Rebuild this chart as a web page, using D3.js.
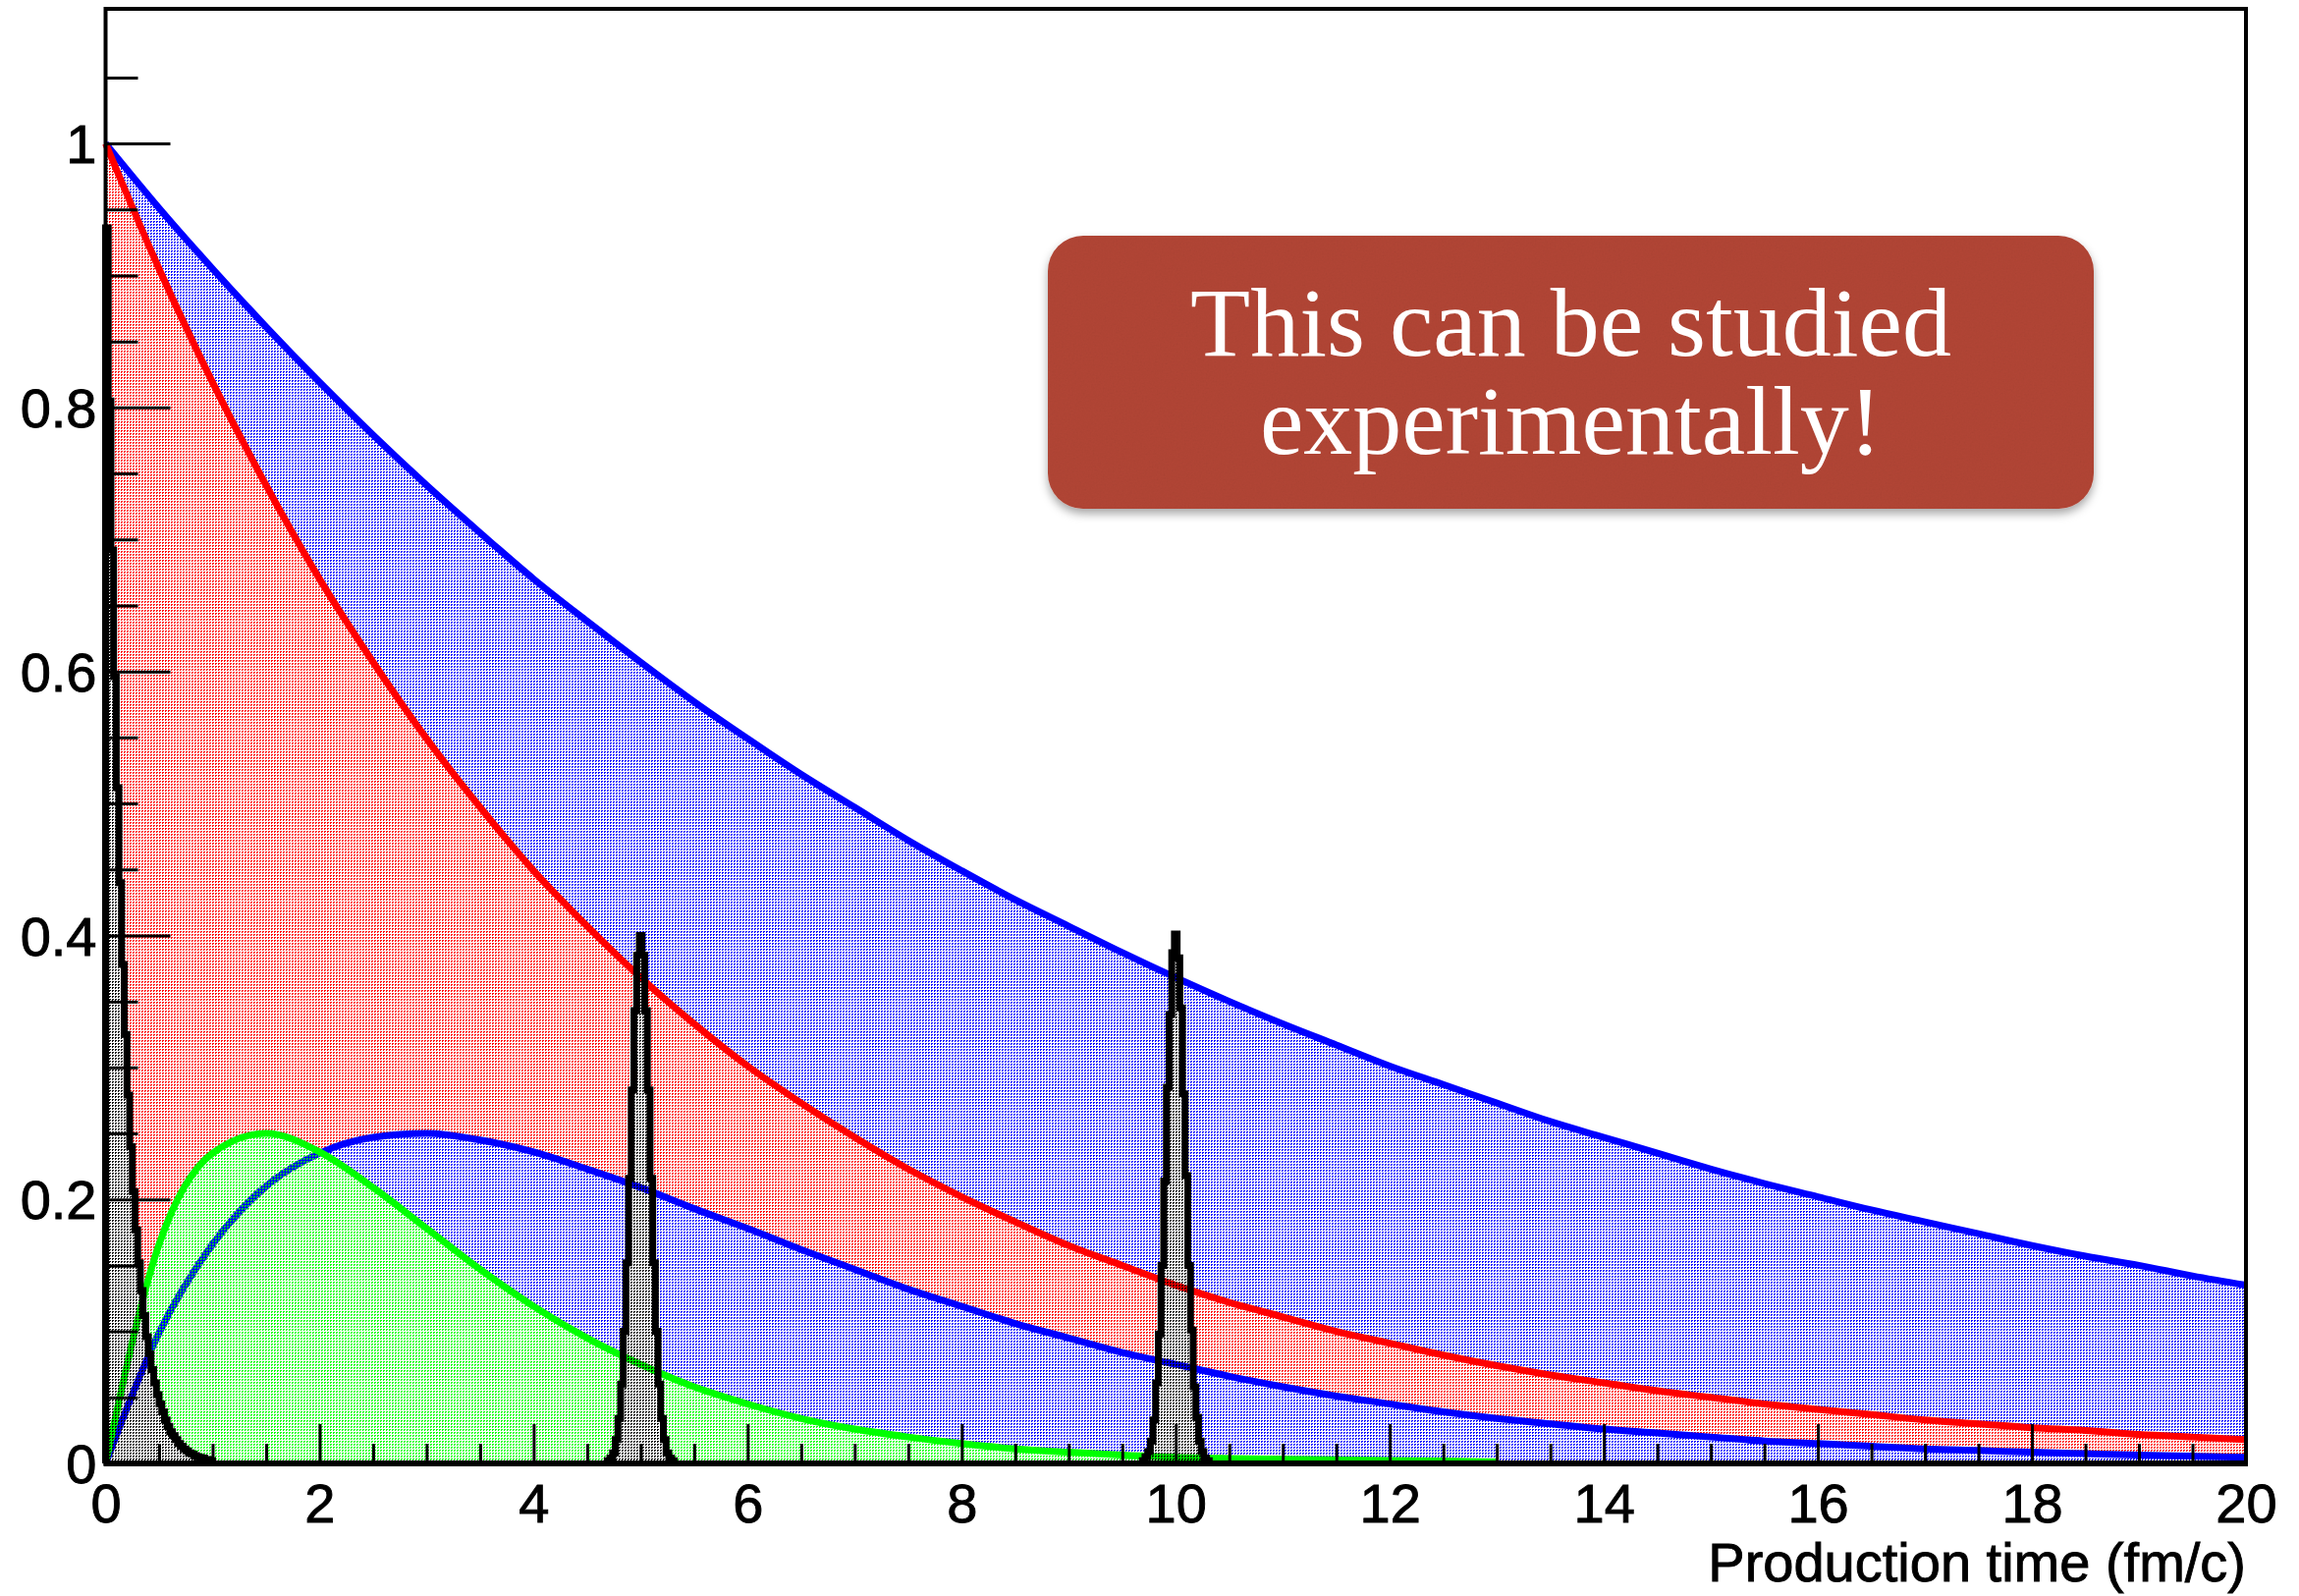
<!DOCTYPE html>
<html>
<head>
<meta charset="utf-8">
<script src="https://cdn.jsdelivr.net/npm/d3@7"></script>
<style>
  html, body { margin: 0; padding: 0; background: #ffffff; }
  svg { display: block; }
</style>
</head>
<body>
<svg id="chart" width="2341" height="1625"></svg>
<script>
// ---- data -------------------------------------------------------------
// production time grid (fm/c) for the broad distributions
const tGrid = [0, 0.5, 1, 1.5, 2, 2.5, 3, 3.5, 4, 4.5, 5, 5.5, 6, 6.5, 7, 7.5, 8, 8.5, 9, 9.5,
               10, 10.5, 11, 11.5, 12, 12.5, 13, 13.5, 14, 14.5, 15, 15.5, 16, 16.5, 17, 17.5,
               18, 18.5, 19, 19.5, 20];

// long-lived component (upper blue)
const longSurvival = [1.000, 0.951, 0.905, 0.861, 0.819, 0.779, 0.741, 0.705, 0.670, 0.638,
                      0.607, 0.577, 0.549, 0.522, 0.497, 0.472, 0.449, 0.427, 0.407, 0.387,
                      0.368, 0.350, 0.333, 0.317, 0.301, 0.287, 0.273, 0.259, 0.247, 0.235,
                      0.223, 0.212, 0.202, 0.192, 0.183, 0.174, 0.165, 0.157, 0.150, 0.142, 0.135];

// short-lived component (red)
const shortSurvival = [1.000, 0.905, 0.819, 0.741, 0.670, 0.607, 0.549, 0.497, 0.449, 0.407,
                       0.368, 0.333, 0.301, 0.273, 0.247, 0.223, 0.202, 0.183, 0.165, 0.150,
                       0.135, 0.122, 0.111, 0.100, 0.091, 0.082, 0.074, 0.067, 0.061, 0.055,
                       0.050, 0.045, 0.041, 0.037, 0.033, 0.030, 0.027, 0.025, 0.022, 0.020, 0.018];

// production-time distribution, slow (lower blue)
const slowProduction = [0.000, 0.099, 0.166, 0.210, 0.235, 0.247, 0.250, 0.245, 0.236, 0.223,
                        0.209, 0.193, 0.178, 0.162, 0.147, 0.132, 0.119, 0.106, 0.095, 0.084,
                        0.075, 0.066, 0.058, 0.051, 0.045, 0.039, 0.034, 0.030, 0.026, 0.023,
                        0.020, 0.017, 0.015, 0.013, 0.011, 0.0098, 0.0085, 0.0074, 0.0064, 0.0055, 0.0047];

// production-time distribution, fast (green) - filled up to 13 fm/c
const fastProduction = [0.000, 0.166, 0.235, 0.250, 0.236, 0.209, 0.178, 0.147, 0.119, 0.095,
                        0.075, 0.058, 0.045, 0.034, 0.026, 0.020, 0.015, 0.011, 0.0085, 0.0064,
                        0.0047, 0.0038, 0.0032, 0.0027, 0.0022, 0.0018, 0.0012];

// narrow production-time peaks, fine binning
const peakBinWidth = 0.025;
const peakAt0Start = 0;
const peakAt0 = [0.936, 0.805, 0.692, 0.596, 0.512, 0.440, 0.378, 0.325, 0.279, 0.240,
                 0.206, 0.177, 0.152, 0.131, 0.112, 0.096, 0.083, 0.071, 0.061, 0.052,
                 0.045, 0.039, 0.033, 0.028, 0.024, 0.021, 0.018, 0.015, 0.013, 0.011,
                 0.0095, 0.008, 0.007, 0.006, 0.005, 0.0045, 0.004, 0.003, 0.003, 0.002];
const peakAt5Start = 4.6875;
const peakAt5 = [0.002, 0.004, 0.008, 0.018, 0.034, 0.060, 0.100, 0.152, 0.216, 0.283,
                 0.343, 0.385, 0.400, 0.385, 0.343, 0.283, 0.216, 0.152, 0.100, 0.060,
                 0.034, 0.018, 0.008, 0.004, 0.002];
const peakAt10Start = 9.6875;
const peakAt10 = [0.002, 0.005, 0.009, 0.017, 0.033, 0.061, 0.098, 0.150, 0.214, 0.285,
                  0.340, 0.387, 0.401, 0.383, 0.345, 0.280, 0.218, 0.150, 0.101, 0.058,
                  0.035, 0.017, 0.009, 0.004, 0.002];

// axes
const xMajorTicks = [0, 2, 4, 6, 8, 10, 12, 14, 16, 18, 20];
const yMajorTicks = [0, 0.2, 0.4, 0.6, 0.8, 1];
const xTitle = "Production time (fm/c)";
const noteLines = ["This can be studied", "experimentally!"];

// ---- layout -----------------------------------------------------------
const frame = { left: 107.5, right: 2287, top: 9, bottom: 1490 };
const x = d3.scaleLinear().domain([0, 20]).range([frame.left, frame.right]);
const y = d3.scaleLinear().domain([0, 1.102]).range([frame.bottom, frame.top]);

const svg = d3.select("#chart");
const defs = svg.append("defs");

// dotted fill patterns: opaque pixel dots on a transparent 3x3 cell, so a later
// fill fully replaces the dots of an earlier one where they overlap
function dotPattern(id, color) {
  const p = defs.append("pattern")
    .attr("id", id)
    .attr("width", 3).attr("height", 3)
    .attr("patternUnits", "userSpaceOnUse");
  p.append("rect").attr("x", 0).attr("y", 0).attr("width", 2).attr("height", 1)
    .attr("fill", color).attr("shape-rendering", "crispEdges");
  p.append("rect").attr("x", 0).attr("y", 1).attr("width", 1).attr("height", 1)
    .attr("fill", color).attr("shape-rendering", "crispEdges");
}
dotPattern("dotBlue", "#0000ff");
dotPattern("dotRed", "#ff0000");
dotPattern("dotGreen", "#00ff00");
dotPattern("dotBlack", "#000000");

// drop shadow + paper grain for the note box
const shadow = defs.append("filter").attr("id", "shadow")
  .attr("x", "-5%").attr("y", "-10%").attr("width", "110%").attr("height", "130%");
shadow.append("feDropShadow").attr("dx", 0).attr("dy", 5).attr("stdDeviation", 5)
  .attr("flood-color", "#000").attr("flood-opacity", 0.35);

const grain = defs.append("filter").attr("id", "grain")
  .attr("x", 0).attr("y", 0).attr("width", "100%").attr("height", "100%");
grain.append("feTurbulence").attr("type", "fractalNoise").attr("baseFrequency", 0.6)
  .attr("numOctaves", 3).attr("seed", 7).attr("result", "noise");
grain.append("feColorMatrix").attr("in", "noise").attr("type", "saturate").attr("values", 0).attr("result", "gray");
grain.append("feComposite").attr("in", "gray").attr("in2", "SourceGraphic").attr("operator", "in");

const plot = svg.append("g");

// ---- broad distributions ------------------------------------------------
function smoothSeries(values) {
  return values.map((v, i) => ({ t: tGrid[i], v }));
}
const areaGen = d3.area().x(d => x(d.t)).y0(y(0)).y1(d => y(d.v)).curve(d3.curveMonotoneX);
const lineGen = d3.line().x(d => x(d.t)).y(d => y(d.v)).curve(d3.curveMonotoneX);

const broad = [
  { values: longSurvival, color: "#0000ff", pattern: "dotBlue" },
  { values: shortSurvival, color: "#ff0000", pattern: "dotRed" },
  { values: slowProduction, color: "#0000ff", pattern: "dotBlue" },
  { values: fastProduction, color: "#00ff00", pattern: "dotGreen" }
];

broad.forEach(s => {
  const pts = smoothSeries(s.values);
  plot.append("path").attr("d", areaGen(pts)).attr("fill", `url(#${s.pattern})`);
  plot.append("path").attr("d", lineGen(pts))
    .attr("fill", "none").attr("stroke", s.color).attr("stroke-width", 7)
    .attr("stroke-linejoin", "round");
});

// ---- narrow peaks (step histograms) ---------------------------------------
function stepBins(start, values) {
  const pts = values.map((v, i) => ({ t: start + i * peakBinWidth, v }));
  pts.push({ t: start + values.length * peakBinWidth, v: values[values.length - 1] });
  return pts;
}
const stepArea = d3.area().x(d => x(d.t)).y0(y(0)).y1(d => y(d.v)).curve(d3.curveStepAfter);
const stepLine = d3.line().x(d => x(d.t)).y(d => y(d.v)).curve(d3.curveStepAfter);

[[peakAt0Start, peakAt0], [peakAt5Start, peakAt5], [peakAt10Start, peakAt10]].forEach(([start, vals]) => {
  const pts = stepBins(start, vals);
  plot.append("path").attr("d", stepArea(pts)).attr("fill", "url(#dotBlack)");
  const outline = [{ t: start, v: 0 }, ...pts, { t: pts[pts.length - 1].t, v: 0 }];
  plot.append("path").attr("d", stepLine(outline))
    .attr("fill", "none").attr("stroke", "#000").attr("stroke-width", 7)
    .attr("stroke-linejoin", "miter");
});

// ---- axes -----------------------------------------------------------------
const labelFont = "'Liberation Sans', Arial, Helvetica, sans-serif";
const xMinorTicks = d3.range(0, 20.001, 0.5).filter(v => Math.abs(v / 2 - Math.round(v / 2)) > 1e-6);
const yMinorTicks = d3.range(0, 1.0501, 0.05).map(v => +v.toFixed(2))
  .filter(v => Math.abs(v * 5 - Math.round(v * 5)) > 1e-6);

const xAxisMinor = svg.append("g").attr("transform", `translate(0,${frame.bottom})`)
  .call(d3.axisBottom(x).tickValues(xMinorTicks).tickSize(-20).tickFormat(""));
const xAxis = svg.append("g").attr("transform", `translate(0,${frame.bottom})`)
  .call(d3.axisBottom(x).tickValues(xMajorTicks).tickSize(-40).tickPadding(20)
    .tickFormat(d => String(d)));

const yAxisMinor = svg.append("g").attr("transform", `translate(${frame.left},0)`)
  .call(d3.axisLeft(y).tickValues(yMinorTicks).tickSize(-33).tickFormat(""));
const yAxis = svg.append("g").attr("transform", `translate(${frame.left},0)`)
  .call(d3.axisLeft(y).tickValues(yMajorTicks).tickSize(-66).tickPadding(9)
    .tickFormat(d => String(+d.toFixed(1))));

[xAxisMinor, xAxis, yAxisMinor, yAxis].forEach(g => {
  g.select(".domain").remove();
  g.selectAll(".tick line").attr("stroke", "#000").attr("stroke-width", 3);
  g.selectAll(".tick text")
    .attr("fill", "#000")
    .attr("stroke", "#000").attr("stroke-width", 0.9)
    .style("font-family", labelFont)
    .style("font-size", "56px");
});
yAxis.selectAll(".tick text").attr("dy", "0.35em");

// frame
svg.append("rect")
  .attr("x", frame.left).attr("y", frame.top)
  .attr("width", frame.right - frame.left).attr("height", frame.bottom - frame.top)
  .attr("fill", "none").attr("stroke", "#000").attr("stroke-width", 4);
svg.append("line")
  .attr("x1", frame.left - 2).attr("x2", frame.right + 2)
  .attr("y1", frame.bottom).attr("y2", frame.bottom)
  .attr("stroke", "#000").attr("stroke-width", 6);

// axis title
svg.append("text")
  .attr("x", frame.right).attr("y", 1610)
  .attr("text-anchor", "end")
  .style("font-family", labelFont)
  .style("font-size", "56px")
  .attr("fill", "#000").attr("stroke", "#000").attr("stroke-width", 0.9)
  .text(xTitle);

// ---- note box -------------------------------------------------------------
const box = { x: 1067, y: 240, w: 1065, h: 278, r: 36 };
const note = svg.append("g");
note.append("rect")
  .attr("x", box.x).attr("y", box.y).attr("width", box.w).attr("height", box.h)
  .attr("rx", box.r).attr("ry", box.r)
  .attr("fill", "#b24535").attr("filter", "url(#shadow)");
note.append("rect")
  .attr("x", box.x).attr("y", box.y).attr("width", box.w).attr("height", box.h)
  .attr("rx", box.r).attr("ry", box.r)
  .attr("fill", "#000").attr("filter", "url(#grain)")
  .attr("opacity", 0.12).style("mix-blend-mode", "multiply");
note.selectAll("text.note")
  .data(noteLines)
  .join("text")
  .attr("class", "note")
  .attr("x", box.x + box.w / 2)
  .attr("y", (d, i) => 362 + i * 100)
  .attr("text-anchor", "middle")
  .attr("fill", "#ffffff")
  .style("font-family", "'Liberation Serif', 'Times New Roman', serif")
  .style("font-size", "100px")
  .text(d => d);
</script>
</body>
</html>
